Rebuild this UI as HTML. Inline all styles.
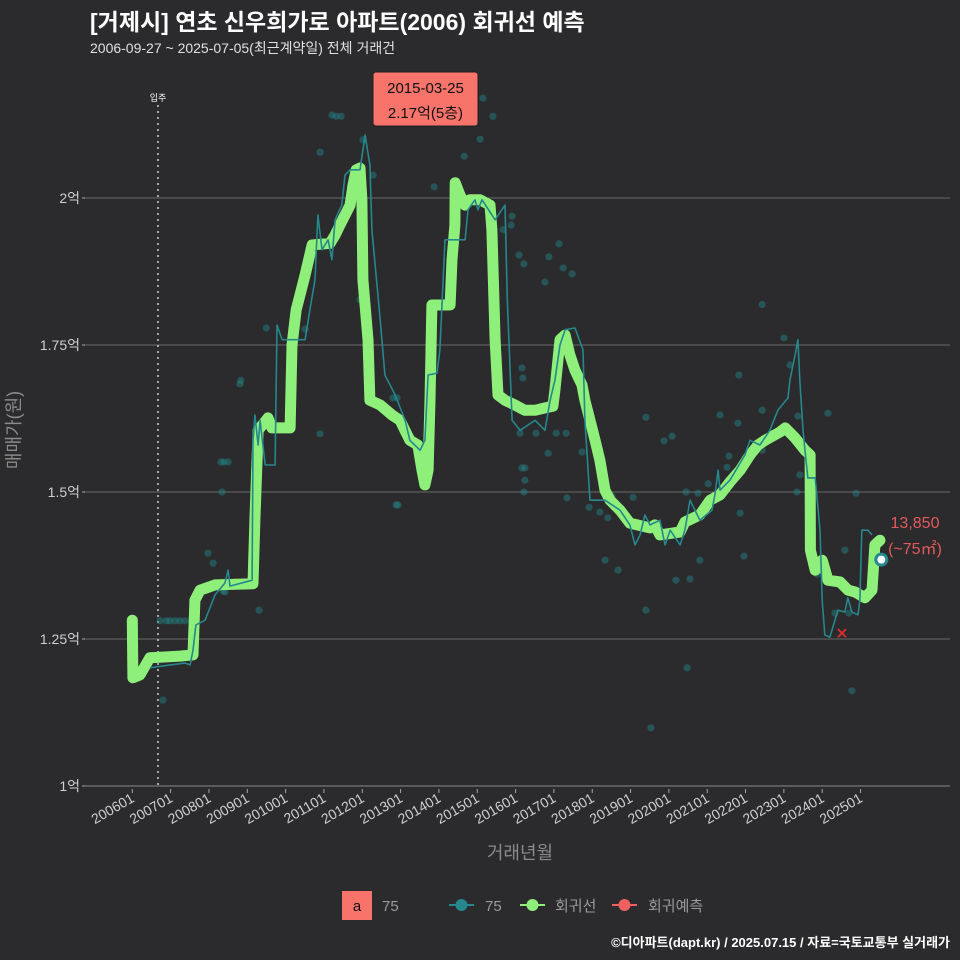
<!DOCTYPE html>
<html><head><meta charset="utf-8">
<style>
body{margin:0;background:#2b2a2c;}
svg{display:block;font-family:"Liberation Sans","Noto Sans CJK KR",sans-serif;}
</style></head>
<body>
<svg id="chart" width="960" height="960" viewBox="0 0 960 960" xmlns="http://www.w3.org/2000/svg">
<rect width="960" height="960" fill="#2b2a2c"/>
<text x="90" y="30" fill="#ffffff" font-size="23" font-weight="bold">[거제시] 연초 신우희가로 아파트(2006) 회귀선 예측</text>
<text x="90" y="53" fill="#e0e0e0" font-size="14">2006-09-27 ~ 2025-07-05(최근계약일) 전체 거래건</text>
<g id="grid"></g>
<g id="yticks"></g>
<g id="xticks"></g>
<line x1="158" y1="105" x2="158" y2="786" stroke="#cccccc" stroke-width="1.5" stroke-dasharray="2,4"/>
<text x="158" y="101" fill="#ffffff" font-size="9" text-anchor="middle">입주</text>
<g id="scatter"></g>
<path id="greenLine" fill="none" stroke="#8ef07a" stroke-width="11" stroke-linejoin="round" stroke-linecap="round"/>
<path id="tealLine" fill="none" stroke="#26878c" stroke-width="1.6" stroke-linejoin="round"/>
<g id="marks"></g>
<text x="20" y="430" fill="#8a8a8a" font-size="18" text-anchor="middle" transform="rotate(-90 20 430)">매매가(원)</text>
<text x="520" y="859" fill="#8a8a8a" font-size="18" text-anchor="middle">거래년월</text>
<g>
<rect x="373" y="72" width="105" height="54" rx="3" fill="#f8736a" stroke="#222" stroke-width="1"/>
<text x="425.5" y="93" font-size="15" text-anchor="middle" fill="#111">2015-03-25</text>
<text x="425.5" y="118" font-size="15" text-anchor="middle" fill="#111">2.17억(5층)</text>
</g>
<text x="915" y="528" fill="#e35a5a" font-size="16" text-anchor="middle">13,850</text>
<text x="915" y="554" fill="#e35a5a" font-size="16" text-anchor="middle">(~75㎡)</text>
<g>
<rect x="342" y="891" width="30" height="29" fill="#f8736a"/>
<text x="357" y="911" font-size="15" text-anchor="middle" fill="#111">a</text>
<text x="382" y="911" font-size="15" fill="#9a9a9a">75</text>
<g>
<line x1="449" y1="905" x2="474" y2="905" stroke="#26878c" stroke-width="2"/><circle cx="461.5" cy="905" r="6" fill="#26878c"/>
<text x="485" y="911" font-size="15" fill="#9a9a9a">75</text></g>
<g>
<line x1="520" y1="905" x2="545" y2="905" stroke="#8ef07a" stroke-width="2"/><circle cx="532.5" cy="905" r="6" fill="#8ef07a"/>
<text x="555" y="911" font-size="15" fill="#9a9a9a">회귀선</text></g>
<g>
<line x1="612" y1="905" x2="637" y2="905" stroke="#f06060" stroke-width="2"/><circle cx="624.5" cy="905" r="6" fill="#f06060"/>
<text x="648" y="911" font-size="15" fill="#9a9a9a">회귀예측</text></g>
</g>
<text x="950" y="947" fill="#ffffff" font-size="13" font-weight="bold" text-anchor="end">©디아파트(dapt.kr) / 2025.07.15 / 자료=국토교통부 실거래가</text>
</svg>
<script>
// months since 2006-01, price in 만원
const yTicks = [10000, 12500, 15000, 17500, 20000];
const yTickLabels = ["1억", "1.25억", "1.5억", "1.75억", "2억"];
const xTickYears = [2006,2007,2008,2009,2010,2011,2012,2013,2014,2015,2016,2017,2018,2019,2020,2021,2022,2023,2024,2025];
const regMonths = [0,0.2,2.4,5.5,8.7,14.9,19.0,19.6,21.2,25.9,37.8,38.4,39.4,42.5,43.7,49.4,50.0,51.3,52.5,54.1,56.3,61.9,63.5,65.0,66.6,68.2,69.1,70.1,71.3,71.9,72.2,73.8,74.4,77.6,81.3,83.8,86.9,89.4,90.7,91.6,92.6,93.2,93.8,99.5,100.1,101.0,101.1,102.6,104.2,105.7,108.9,112.0,112.6,113.6,114.5,116.7,119.8,122.9,126.1,129.2,131.7,132.3,133.9,135.5,137.0,138.6,140.8,141.7,143.3,144.9,146.4,148.0,149.6,152.7,155.8,162.1,163.6,165.2,171.5,173.0,177.7,180.9,184.0,187.1,190.3,193.4,195.9,198.1,202.8,204.4,207.5,210.6,212.2,212.3,213.8,216.0,217.8,221.6,224.1,226.3,229.4,231.6,232.5,234.1];
const regValues = [12820,11840,11890,12180,12190,12210,12230,13160,13330,13420,13440,14520,16050,16260,16090,16090,17500,18100,18350,18690,19200,19230,19370,19540,19710,19880,20220,20480,20510,19970,18610,17590,16560,16480,16310,16220,15880,15800,15370,15120,15370,16560,18180,18180,18950,19540,20260,20050,19880,19970,19970,19880,19460,17590,16650,16560,16480,16390,16390,16430,16460,16730,17590,17670,17330,17070,16820,16560,16220,15880,15540,15030,14860,14690,14470,14390,14440,14270,14320,14490,14610,14860,14950,15170,15370,15630,15800,15880,16020,16090,15920,15710,15630,14010,13670,13840,13500,13470,13330,13300,13200,13330,14100,14180];
const tealMonths = [5.5,11.8,16.5,18.1,19.0,19.9,22.8,25.9,29.0,30.0,30.6,37.5,37.8,38.4,39.4,40.0,41.6,44.7,45.3,46.9,54.1,55.6,57.2,58.1,59.4,61.3,62.5,63.5,65.6,66.6,68.2,71.3,72.9,74.4,75.0,77.6,79.1,82.3,85.4,86.9,90.1,91.6,92.6,95.4,96.3,97.9,104.2,105.1,107.3,108.2,109.5,113.6,116.7,117.4,118.9,121.4,126.1,129.2,130.8,132.3,133.9,135.5,138.6,140.2,141.1,141.7,143.3,148.0,152.7,155.8,157.4,159.0,160.5,162.1,165.2,166.8,168.4,171.5,173.0,174.6,177.7,181.5,182.4,183.4,184.0,187.1,191.8,193.4,196.5,199.6,202.1,205.3,205.9,207.5,208.4,209.0,210.0,211.5,213.8,215.3,216.0,216.8,218.4,220.9,223.1,224.0,225.3,227.2,227.8,228.4,230.3,231.6];
const tealValues = [12010,12060,12090,12060,12310,12740,12820,13250,13450,13670,13400,13500,15880,16310,15800,16220,15460,15460,17840,17590,17590,18100,18610,19710,19120,19290,18950,19630,19880,20390,20480,20480,21070,20560,19460,17930,16990,16650,16220,15880,15710,15880,16990,17020,17420,19290,19290,19800,19970,19800,19970,19630,19880,18270,16220,16050,16220,16050,16560,16900,17500,17760,17790,17550,17420,16220,14860,14860,14690,14440,14100,14270,14610,14440,14520,14100,14350,14100,14350,14860,14520,14690,14950,15370,15030,15200,15630,15880,15800,16050,16390,16600,16900,17330,17590,16900,16050,15240,15240,14350,13160,12570,12530,12990,12960,13200,12960,12910,13160,14350,14350,14270];
const dealMonths = [9.6,8.7,10.6,11.8,13.4,14.9,16.5,28.4,29.0,23.7,25.3,27.8,28.7,30.0,28.1,39.7,33.7,34.0,41.9,54.1,58.8,63.8,65.4,72.2,75.4,71.3,62.5,81.6,82.9,83.2,82.6,58.8,94.5,103.9,109.8,108.9,112.9,118.9,118.6,121.1,122.6,116.1,130.4,129.2,133.6,134.9,137.7,122.0,122.3,122.9,122.0,122.9,122.6,126.4,132.7,121.4,130.2,135.8,136.1,140.8,143.0,146.4,148.9,150.2,148.0,152.1,156.8,160.8,166.5,169.0,173.4,177.1,180.3,184.0,177.7,174.6,162.4,173.7,158.3,160.8,170.2,186.2,191.5,197.2,193.4,197.2,208.4,208.1,209.0,217.8,224.4,225.3,226.6,205.9,204.0,197.2,189.9,189.6,186.8,190.3,220.0,223.1,214.4];
const dealValues = [11460,12810,12810,12810,12810,12810,12810,13320,13300,13960,13790,15510,15510,15510,15000,12990,16840,16900,17790,17770,20780,21390,21390,20990,20390,18270,21410,16600,16600,14780,14780,15990,20190,20710,21700,21000,21390,19690,19540,19030,18880,19460,19000,18570,19220,18810,18710,17110,16940,15410,15410,15200,15000,16000,16000,16000,15660,16000,14900,15680,14740,14660,14560,14930,13840,13670,14910,16270,15870,15950,15000,14980,15140,16310,13840,13520,10990,12010,14420,12990,13500,15420,13910,16390,15630,15710,16290,15000,15290,16340,12940,11620,14980,17160,17620,18190,16990,16170,15610,14640,12940,14010,13600];
const lastMonth = 234.5, lastValue = 13850;
const forecastMonth = 222.2, forecastValue = 12600;

const NS = "http://www.w3.org/2000/svg";
function xS(m){ return 132.3 + m * 3.194; }
function yS(v){ return 786 - (v - 10000) / 17.007; }
function mk(tag, attrs, parent){
  const e = document.createElementNS(NS, tag);
  for (const k in attrs) e.setAttribute(k, attrs[k]);
  parent.appendChild(e); return e;
}
const grid = document.getElementById('grid');
const yt = document.getElementById('yticks');
yTicks.forEach((v, i) => {
  const y = yS(v);
  const gl = mk('line', {x1:85, x2:950, y1:y, y2:y, stroke: i===0 ? '#5a5a5a' : '#6a6a6a', 'stroke-width': i===0?2:1}, grid);
  
  
  mk('line', {x1:82, x2:85, y1:y, y2:y, stroke:'#aaa'}, yt);
  const t = mk('text', {x:80, y:y+5, fill:'#cfcfcf', 'font-size':14, 'text-anchor':'end'}, yt);
  t.textContent = yTickLabels[i];
  
  
});
const xt = document.getElementById('xticks');
xTickYears.forEach(yr => {
  const x = xS((yr - 2006) * 12);
  mk('line', {x1:x, x2:x, y1:789, y2:793, stroke:'#aaa'}, xt);
  const t = mk('text', {x:x+3, y:801, fill:'#cfcfcf', 'font-size':14, 'text-anchor':'end', transform:`rotate(-30 ${x+3} 801)`}, xt);
  t.textContent = yr + '01';
  
  
});
const sc = document.getElementById('scatter');
dealMonths.forEach((m, i) => {
  const c = mk('circle', {cx:xS(m), cy:yS(dealValues[i]), r:3.6, fill:'#23898c', 'fill-opacity':0.45}, sc);
  
  
});
function pathOf(ms, vs){ return ms.map((m,i)=>(i?'L':'M')+xS(m).toFixed(1)+','+yS(vs[i]).toFixed(1)).join(' '); }
document.getElementById('greenLine').setAttribute('d', pathOf(regMonths, regValues));
document.getElementById('tealLine').setAttribute('d', pathOf(tealMonths, tealValues));
const marks = document.getElementById('marks');
const lc = mk('circle', {cx:xS(lastMonth), cy:yS(lastValue), r:5.5, fill:'#ffffff', stroke:'#26878c', 'stroke-width':3}, marks);


const fx = xS(forecastMonth), fy = yS(forecastValue);
const fp = mk('path', {d:`M${fx-4},${fy-4}L${fx+4},${fy+4}M${fx-4},${fy+4}L${fx+4},${fy-4}`, stroke:'#d03030', 'stroke-width':2}, marks);


</script>
</body></html>
